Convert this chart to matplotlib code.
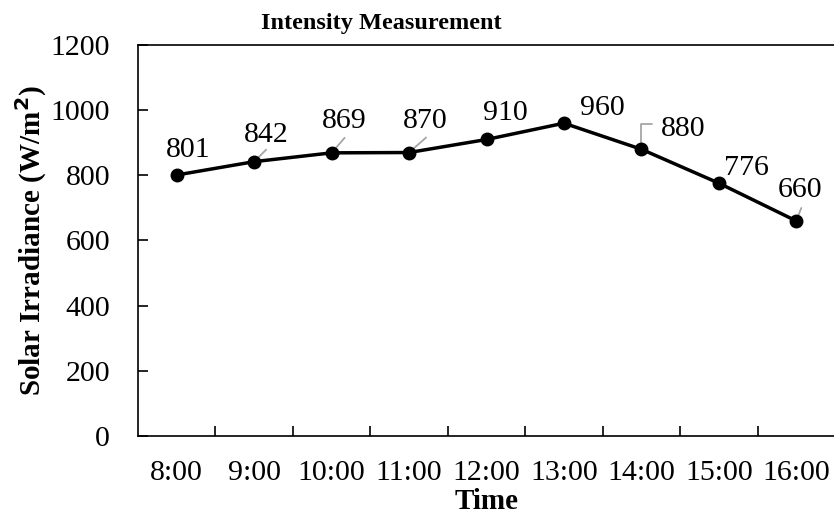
import matplotlib.pyplot as plt

# chart data
times = ['8:00', '9:00', '10:00', '11:00', '12:00', '13:00', '14:00', '15:00', '16:00']
irradiance = [801, 842, 869, 870, 910, 960, 880, 776, 660]

# label offsets in pixels (dx, dy) from each point to the label baseline centre
label_offsets = [(11, 18), (12, 20), (13, 25), (16, 25), (19, 19),
                 (38, 8), (42, 13), (28, 8), (4, 24)]
# leader lines: point index -> end of line in pixels from the point
leaders = {1: (12, 12), 2: (13, 15), 3: (17, 15), 6: (11, 25), 8: (5, 13)}

plt.rcParams['font.family'] = ['Liberation Serif']

fig = plt.figure(figsize=(8.34, 5.17), dpi=100)
ax = fig.add_axes([138 / 834, 81 / 517, 697 / 834, 391 / 517])

x = list(range(len(times)))
ax.plot(x, irradiance, color='black', linewidth=2.5, marker='o', markersize=9,
        zorder=3, clip_on=False)

# Leader lines
for i, (ex, ey) in leaders.items():
    props = dict(arrowstyle='-', color='#a6a6a6', lw=1.3, shrinkA=0, shrinkB=3)
    if i == 6:
        props['connectionstyle'] = 'angle,angleA=0,angleB=90,rad=0'
    ax.annotate('', xy=(i, irradiance[i]), xytext=(ex, ey),
                textcoords='offset pixels', arrowprops=props, zorder=2)

# Data labels
for i, val in enumerate(irradiance):
    dx, dy = label_offsets[i]
    ax.annotate(str(val), xy=(i, val), xytext=(dx, dy), textcoords='offset pixels',
                ha='center', va='baseline', fontsize=21.5, zorder=4)

# Axes styling
ax.set_xlim(-0.5, len(times) - 0.5)
ax.set_ylim(0, 1200)
ax.set_yticks(range(0, 1201, 200))
ax.set_xticks([i + 0.5 for i in range(len(times) - 1)])
ax.set_xticklabels([])
ax.set_xticks(x, minor=True)
ax.set_xticklabels(times, minor=True)
ax.tick_params(axis='x', which='major', direction='in', length=7, width=1.2)
ax.tick_params(axis='x', which='minor', length=0, pad=17, labelsize=21.5)
ax.tick_params(axis='y', direction='in', length=7, width=1.2, pad=20, labelsize=21.5)
for side in ['left', 'bottom', 'top']:
    ax.spines[side].set_linewidth(1.2)
ax.spines['right'].set_visible(False)

ax.set_xlabel('Time', fontsize=21, fontweight='bold', labelpad=2)
ax.set_ylabel('Solar Irradiance (W/m$\\mathbf{^2}$)', fontsize=21, fontweight='bold',
              labelpad=1)
fig.text(381 / 834, 1 - 23 / 517, 'Intensity Measurement', ha='center', va='center',
         fontsize=17.5, fontweight='bold')

fig.savefig('out.png', dpi=100)
